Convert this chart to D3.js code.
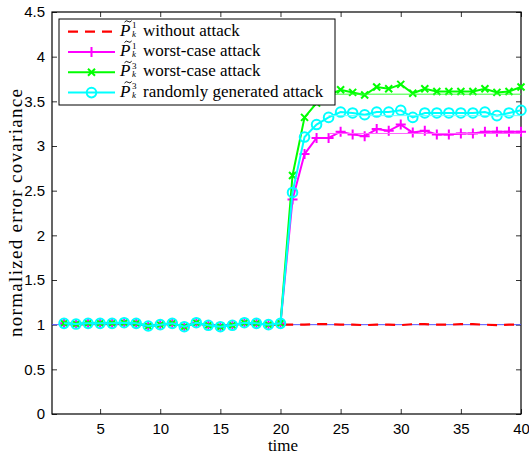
<!DOCTYPE html>
<html>
<head>
<meta charset="utf-8">
<script src="https://cdn.jsdelivr.net/npm/d3@7"></script>
<style>
  body { margin: 0; background: #fff; }
  svg { display: block; }
</style>
</head>
<body>
<div id="content"></div>
<script>
// time steps
const time = [2, 3, 4, 5, 6, 7, 8, 9, 10, 11, 12, 13, 14, 15, 16, 17, 18, 19, 20,
              21, 22, 23, 24, 25, 26, 27, 28, 29, 30, 31, 32, 33, 34, 35, 36, 37, 38, 39, 40];

// P1 without attack (red dashed)
const noAttack = [1.01, 1.0, 1.01, 1.01, 1.01, 1.02, 1.01, 0.99, 1.0, 1.01, 0.98, 1.02, 0.99, 0.98, 0.99, 1.02, 1.01, 1.0, 1.0,
                  1.0, 1.0, 1.005, 1.005, 1.0, 1.0, 0.995, 1.0, 1.0, 0.995, 1.005, 1.005, 1.0, 1.0, 1.005, 1.005, 1.0, 0.995, 1.0, 1.0];

// P1 worst-case attack (magenta +)
const p1Worst = [1.015, 1.007, 1.015, 1.015, 1.015, 1.022, 1.015, 0.985, 1.0, 1.015, 0.977, 1.022, 0.993, 0.977, 0.993, 1.022, 1.015, 1.0, 1.015,
                 2.40, 2.91, 3.09, 3.09, 3.16, 3.13, 3.11, 3.19, 3.17, 3.24, 3.15, 3.17, 3.13, 3.13, 3.14, 3.14, 3.16, 3.16, 3.16, 3.16];

// P3 worst-case attack (green x)
const p3Worst = [1.015, 1.007, 1.015, 1.015, 1.015, 1.022, 1.015, 0.985, 1.0, 1.015, 0.977, 1.022, 0.993, 0.977, 0.993, 1.022, 1.015, 1.0, 1.015,
                 2.67, 3.32, 3.48, 3.57, 3.63, 3.60, 3.57, 3.66, 3.64, 3.69, 3.59, 3.64, 3.61, 3.61, 3.61, 3.61, 3.64, 3.60, 3.61, 3.66];

// P3 randomly generated attack (cyan o)
const p3Random = [1.015, 1.007, 1.015, 1.015, 1.015, 1.022, 1.015, 0.985, 1.0, 1.015, 0.977, 1.022, 0.993, 0.977, 0.993, 1.022, 1.015, 1.0, 1.015,
                  2.48, 3.10, 3.24, 3.32, 3.38, 3.37, 3.35, 3.38, 3.38, 3.40, 3.32, 3.37, 3.37, 3.37, 3.37, 3.37, 3.38, 3.34, 3.37, 3.40];

// thin steady-state reference levels
const refTime = [24, 40];
const refLevels = [
  { value: 3.14, color: "#ff66ff" },
  { value: 3.58, color: "#33ff33" },
  { value: 3.34, color: "#66ffff" }
];
const baseTime = [1, 40];
const baseLevel = 1;

const xTicks = [5, 10, 15, 20, 25, 30, 35, 40];
const yTicks = [0, 0.5, 1, 1.5, 2, 2.5, 3, 3.5, 4, 4.5];

const width = 529, height = 455;
const plotLeft = 52, plotRight = 521, plotTop = 12, plotBottom = 414;

const svg = d3.select("#content")
  .append("svg")
  .attr("width", width)
  .attr("height", height);

const xScale = d3.scaleLinear().domain([1, 40]).range([plotLeft, plotRight]);
const yScale = d3.scaleLinear().domain([0, 4.5]).range([plotBottom, plotTop]);

// axes with inward ticks
const tickFont = "Liberation Sans, Arial, sans-serif";

svg.append("g")
  .attr("transform", "translate(0," + plotBottom + ")")
  .call(d3.axisBottom(xScale).tickValues(xTicks).tickSizeInner(-5).tickSizeOuter(0).tickPadding(9));
svg.append("g")
  .attr("transform", "translate(" + plotLeft + ",0)")
  .call(d3.axisLeft(yScale).tickValues(yTicks).tickSizeInner(-5).tickSizeOuter(0).tickPadding(7)
    .tickFormat(d3.format("")));
svg.append("g")
  .attr("transform", "translate(0," + plotTop + ")")
  .call(d3.axisTop(xScale).tickValues(xTicks).tickSizeInner(-5).tickSizeOuter(0).tickFormat(""));
svg.append("g")
  .attr("transform", "translate(" + plotRight + ",0)")
  .call(d3.axisRight(yScale).tickValues(yTicks).tickSizeInner(-5).tickSizeOuter(0).tickFormat(""));

svg.selectAll(".domain").remove();
svg.selectAll(".tick line").attr("stroke", "#333");
svg.selectAll(".tick text")
  .attr("font-family", tickFont)
  .attr("font-size", 15)
  .attr("fill", "#000");

// plot box
svg.append("rect")
  .attr("x", plotLeft).attr("y", plotTop)
  .attr("width", plotRight - plotLeft).attr("height", plotBottom - plotTop)
  .attr("fill", "none").attr("stroke", "#000").attr("stroke-width", 1.2);

// axis labels
const serif = "Liberation Serif, DejaVu Serif, Times New Roman, serif";
svg.append("text")
  .attr("x", 283).attr("y", 451)
  .attr("text-anchor", "middle")
  .style("font-family", serif).attr("font-size", 17)
  .text("time");

svg.append("text")
  .attr("transform", "translate(22," + 213 + ") rotate(-90)")
  .attr("text-anchor", "middle")
  .style("font-family", serif).attr("font-size", 19)
  .attr("textLength", 248).attr("lengthAdjust", "spacing")
  .text("normalized error covariance");

// thin reference lines
const plot = svg.append("g");
plot.append("line")
  .attr("x1", xScale(baseTime[0])).attr("x2", xScale(baseTime[1]))
  .attr("y1", yScale(baseLevel)).attr("y2", yScale(baseLevel))
  .attr("stroke", "#5555ff").attr("stroke-width", 1);

const line = d3.line().x((d, i) => xScale(time[i])).y(d => yScale(d));

// red dashed
plot.append("path")
  .datum(noAttack)
  .attr("d", line)
  .attr("fill", "none")
  .attr("stroke", "#ff0000")
  .attr("stroke-width", 2.2)
  .attr("stroke-dasharray", "10,7");

const series = [
  { values: p1Worst, color: "#ff00ff", marker: "plus" },
  { values: p3Worst, color: "#00ff00", marker: "cross" },
  { values: p3Random, color: "#00ffff", marker: "circle" }
];

function drawMarker(g, type, color, cx, cy) {
  if (type === "plus") {
    g.append("path")
      .attr("d", `M${cx - 5},${cy}H${cx + 5}M${cx},${cy - 5}V${cy + 5}`)
      .attr("stroke", color).attr("stroke-width", 2).attr("fill", "none");
  } else if (type === "cross") {
    g.append("path")
      .attr("d", `M${cx - 3.5},${cy - 3.5}L${cx + 3.5},${cy + 3.5}M${cx - 3.5},${cy + 3.5}L${cx + 3.5},${cy - 3.5}`)
      .attr("stroke", color).attr("stroke-width", 2).attr("fill", "none");
  } else {
    g.append("circle")
      .attr("cx", cx).attr("cy", cy).attr("r", 4.8)
      .attr("stroke", color).attr("stroke-width", 2).attr("fill", "none");
  }
}

series.forEach(s => {
  plot.append("path")
    .datum(s.values)
    .attr("d", line)
    .attr("fill", "none")
    .attr("stroke", s.color)
    .attr("stroke-width", 2);
  const mg = plot.append("g");
  s.values.forEach((v, i) => drawMarker(mg, s.marker, s.color, xScale(time[i]), yScale(v)));
});

refLevels.forEach(r => {
  plot.append("line")
    .attr("x1", xScale(refTime[0])).attr("x2", xScale(refTime[1]))
    .attr("y1", yScale(r.value)).attr("y2", yScale(r.value))
    .attr("stroke", r.color).attr("stroke-width", 1);
});

// legend
const legendItems = [
  { sup: "1", label: "without attack", color: "#ff0000", dashed: true },
  { sup: "1", label: "worst-case attack", color: "#ff00ff", marker: "plus" },
  { sup: "3", label: "worst-case attack", color: "#00ff00", marker: "cross" },
  { sup: "3", label: "randomly generated attack", color: "#00ffff", marker: "circle" }
];

const legend = svg.append("g");
legend.append("rect")
  .attr("x", 59).attr("y", 19)
  .attr("width", 276).attr("height", 86)
  .attr("fill", "#fff").attr("stroke", "#000").attr("stroke-width", 1);

legendItems.forEach((d, i) => {
  const cy = 31.7 + i * 20.3;
  legend.append("line")
    .attr("x1", 68).attr("x2", 115)
    .attr("y1", cy).attr("y2", cy)
    .attr("stroke", d.color)
    .attr("stroke-width", d.dashed ? 2.2 : 2)
    .attr("stroke-dasharray", d.dashed ? "10,7" : null);
  if (d.marker) drawMarker(legend, d.marker, d.color, 91.5, cy);

  // tilde over P, drawn as a small curve
  legend.append("path")
    .attr("d", `M124.5,${cy - 9.5} q1.7,-2.5 3.6,-0.8 t3.6,-0.8`)
    .attr("fill", "none").attr("stroke", "#000").attr("stroke-width", 0.9);

  const t = legend.append("text")
    .attr("x", 120).attr("y", cy + 4)
    .style("font-family", serif).attr("font-size", 17);
  t.append("tspan").attr("font-style", "italic").text("P");
  t.append("tspan").attr("x", 132).attr("dy", -7.5).attr("font-size", 9).text(d.sup);
  t.append("tspan").attr("x", 132).attr("dy", 8.5).attr("font-size", 9).attr("font-style", "italic").text("k");
  t.append("tspan").attr("x", 143).attr("dy", -1).text(d.label);
});
</script>
</body>
</html>
